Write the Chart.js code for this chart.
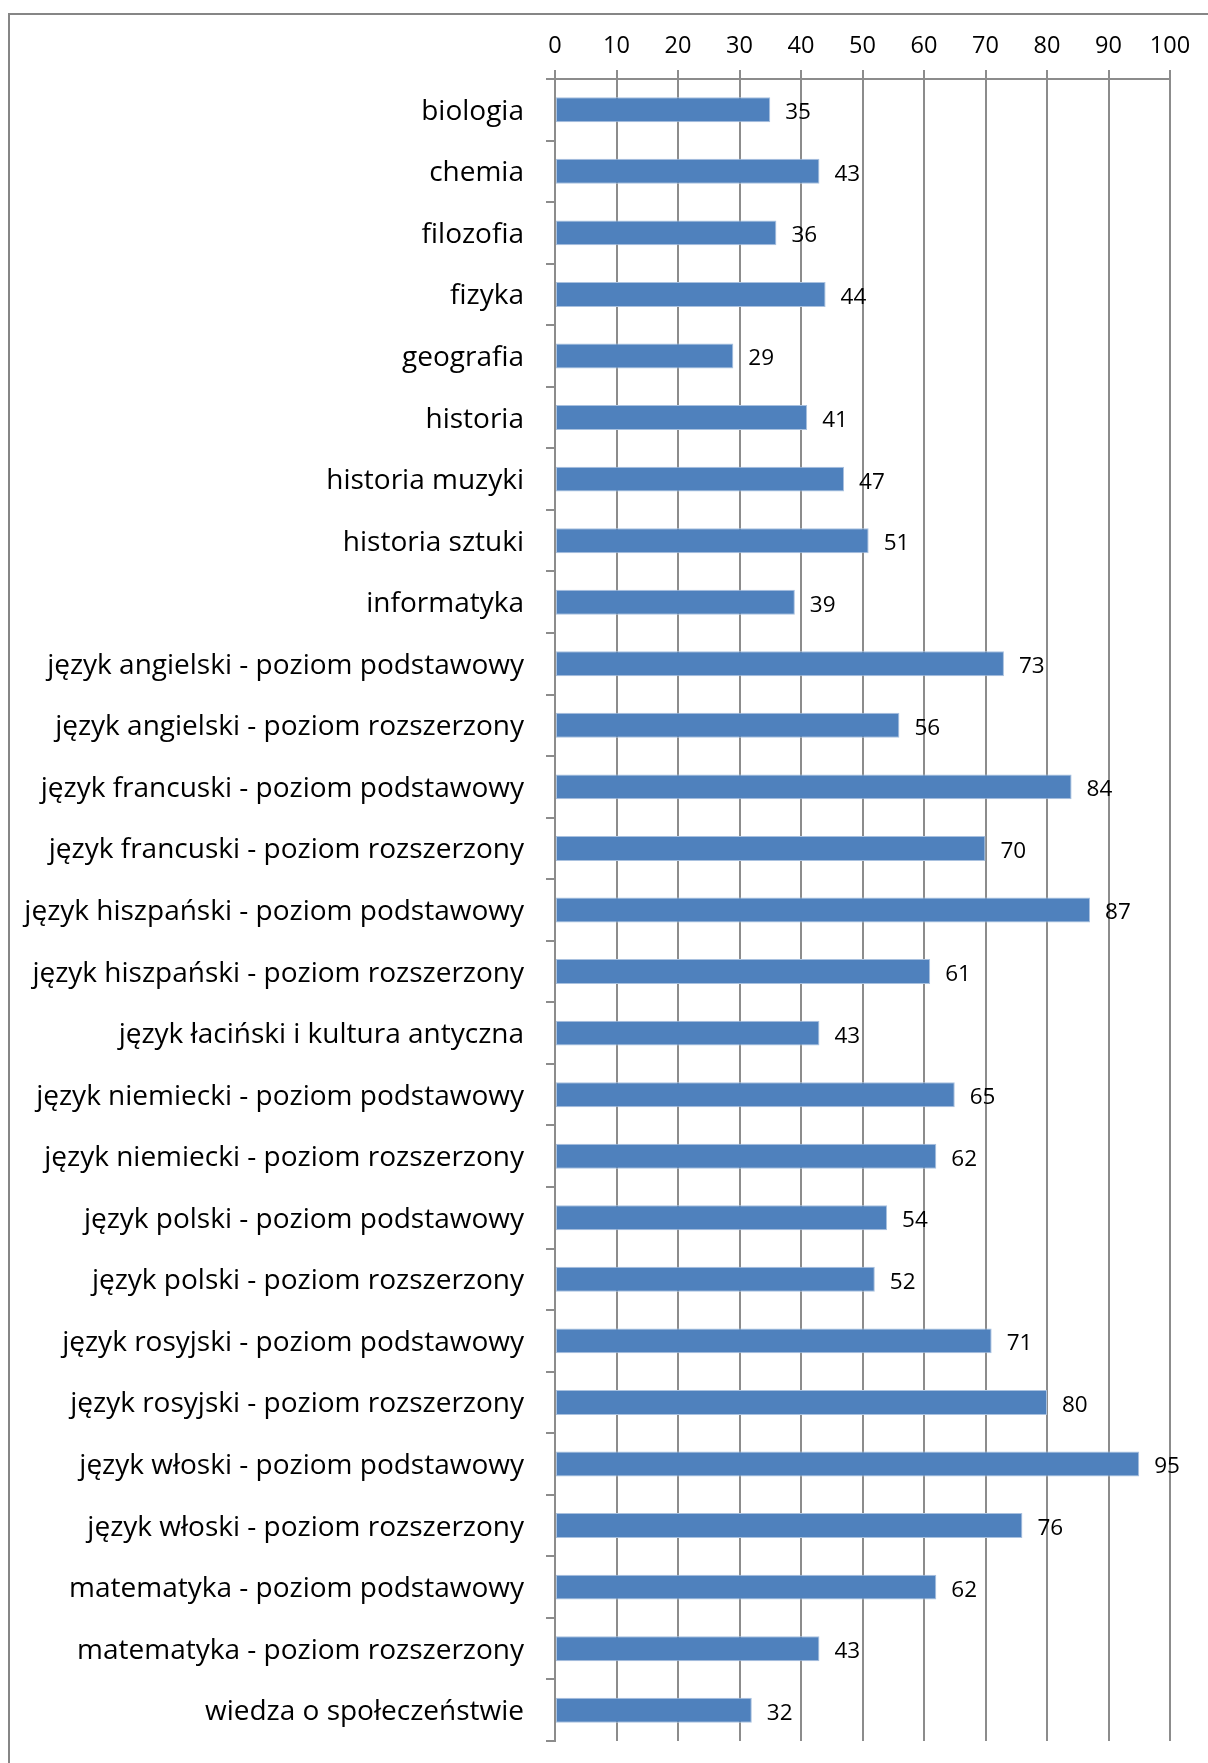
<!DOCTYPE html>
<html>
<head>
<meta charset="utf-8">
<script src="https://cdn.jsdelivr.net/npm/chart.js@4.4.1/dist/chart.umd.min.js"></script>
<style>
  html, body { margin: 0; padding: 0; background: #fff; overflow: hidden; }
  #wrap { width: 1208px; height: 1763px; }
</style>
</head>
<body>
<div id="wrap"><canvas id="chart" width="1208" height="1763"></canvas></div>
<script>
// subjects (top to bottom)
var subjects = [
  'biologia', 'chemia', 'filozofia', 'fizyka', 'geografia', 'historia',
  'historia muzyki', 'historia sztuki', 'informatyka',
  'język angielski - poziom podstawowy', 'język angielski - poziom rozszerzony',
  'język francuski - poziom podstawowy', 'język francuski - poziom rozszerzony',
  'język hiszpański - poziom podstawowy', 'język hiszpański - poziom rozszerzony',
  'język łaciński i kultura antyczna',
  'język niemiecki - poziom podstawowy', 'język niemiecki - poziom rozszerzony',
  'język polski - poziom podstawowy', 'język polski - poziom rozszerzony',
  'język rosyjski - poziom podstawowy', 'język rosyjski - poziom rozszerzony',
  'język włoski - poziom podstawowy', 'język włoski - poziom rozszerzony',
  'matematyka - poziom podstawowy', 'matematyka - poziom rozszerzony',
  'wiedza o społeczeństwie'
];
var results = [35, 43, 36, 44, 29, 41, 47, 51, 39, 73, 56, 84, 70, 87, 61, 43, 65, 62, 54, 52, 71, 80, 95, 76, 62, 43, 32];
var xTicks = [0, 10, 20, 30, 40, 50, 60, 70, 80, 90, 100];

var FONT = '"Open Sans"';

// value labels right of the bars
var valueLabels = {
  id: 'valueLabels',
  afterDatasetsDraw: function(chart) {
    var ctx = chart.ctx;
    var meta = chart.getDatasetMeta(0);
    ctx.save();
    ctx.font = '22.5px ' + FONT;
    ctx.fillStyle = '#000';
    ctx.textBaseline = 'middle';
    ctx.textAlign = 'left';
    meta.data.forEach(function(bar, i) {
      ctx.fillText(results[i], bar.x + 15, bar.y + 3);
    });
    ctx.restore();
  }
};

// outer frame
var frame = {
  id: 'frame',
  afterDraw: function(chart) {
    var ctx = chart.ctx;
    ctx.save();
    ctx.strokeStyle = '#868686';
    ctx.lineWidth = 2;
    ctx.strokeRect(9, 14, 1400, 2000);
    ctx.restore();
  }
};

var ctx = document.getElementById('chart');
var chart = new Chart(ctx, {
  type: 'bar',
  data: {
    labels: subjects,
    datasets: [{
      data: results,
      backgroundColor: '#4F81BD',
      borderColor: '#A9C1DF',
      borderWidth: 1,
      borderSkipped: false,
      categoryPercentage: 1,
      barPercentage: 0.405
    }]
  },
  plugins: [valueLabels, frame],
  options: {
    indexAxis: 'y',
    responsive: false,
    animation: false,
    maintainAspectRatio: false,
    layout: { padding: { left: 0, top: 0, right: 38, bottom: 22 } },
    plugins: {
      legend: { display: false },
      title: { display: false },
      tooltip: { enabled: false }
    },
    scales: {
      x: {
        position: 'top',
        min: 0,
        max: 100,
        afterBuildTicks: function(scale) {
          scale.ticks = xTicks.map(function(v) { return { value: v }; });
        },
        afterFit: function(scale) {
          scale.height = 79;
          scale.paddingLeft = 0;
          scale.paddingRight = 0;
        },
        grid: {
          color: '#8C8C8C',
          lineWidth: 2,
          tickLength: 9,
          drawTicks: true
        },
        border: { display: true, color: '#8C8C8C', width: 2 },
        ticks: {
          color: '#000',
          padding: 10,
          font: { family: 'Open Sans', size: 23.5 }
        }
      },
      y: {
        offset: true,
        afterFit: function(scale) {
          scale.width = 555;
          scale.paddingTop = 0;
          scale.paddingBottom = 0;
        },
        grid: {
          offset: true,
          drawOnChartArea: false,
          drawTicks: true,
          tickLength: 9,
          color: '#8C8C8C',
          lineWidth: 2
        },
        border: { display: true, color: '#8C8C8C', width: 2 },
        ticks: {
          color: '#000',
          padding: 22,
          labelOffset: 2,
          autoSkip: false,
          font: { family: 'Open Sans', size: 28 }
        }
      }
    }
  }
});
</script>
</body>
</html>
